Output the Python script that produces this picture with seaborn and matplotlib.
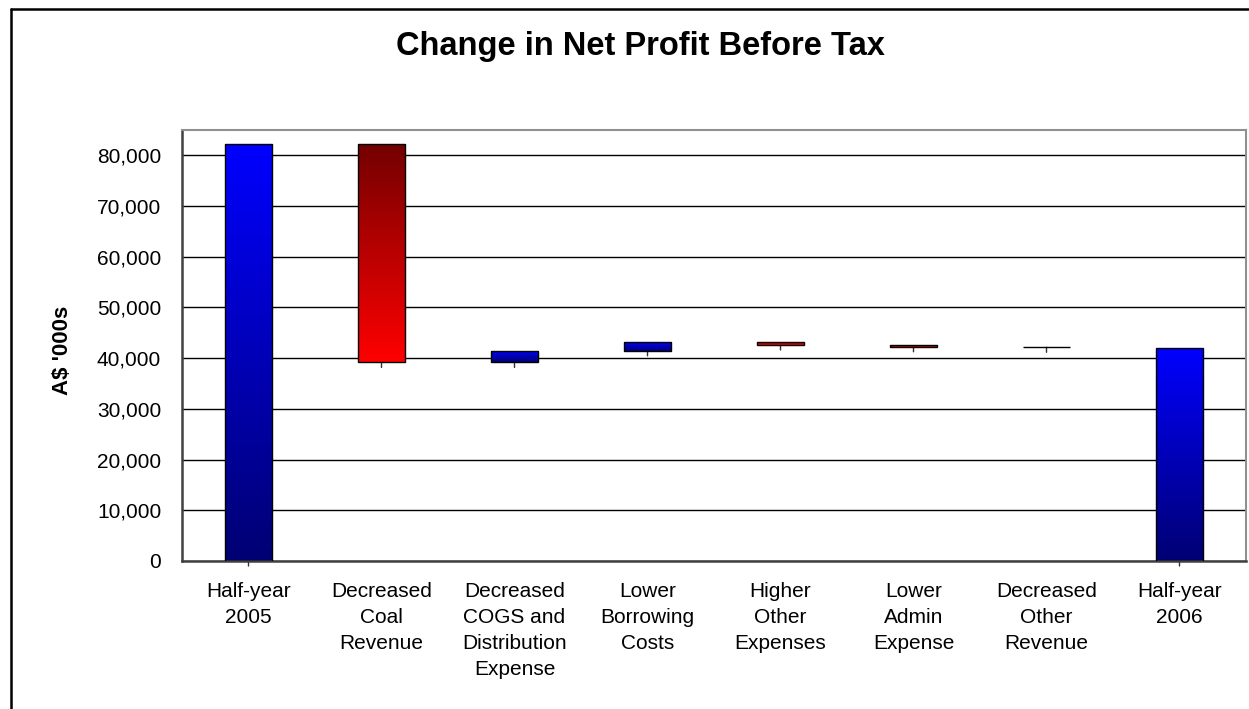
import numpy as np
import pandas as pd
import matplotlib
matplotlib.use("Agg")
import matplotlib.pyplot as plt
from matplotlib.colors import LinearSegmentedColormap
from matplotlib.lines import Line2D
import matplotlib.transforms as mtransforms
import seaborn as sns

# ---- data ----
categories = ["Half-year\n2005", "Decreased\nCoal\nRevenue",
              "Decreased\nCOGS and\nDistribution\nExpense", "Lower\nBorrowing\nCosts",
              "Higher\nOther\nExpenses", "Lower\nAdmin\nExpense",
              "Decreased\nOther\nRevenue", "Half-year\n2006"]
start_value = 82150
changes = [-43000, 2300, 1750, -600, -350, -100]
end_value = 41950
y_ticks = [0, 10000, 20000, 30000, 40000, 50000, 60000, 70000, 80000]

# ---- derive waterfall bottoms/heights ----
bottoms = [0]
heights = [start_value]
kinds = ["total"]
level = start_value
for c in changes:
    new = level + c
    bottoms.append(min(level, new))
    heights.append(abs(c))
    kinds.append("up" if c > 0 else "down")
    level = new
bottoms.append(0)
heights.append(end_value)
kinds.append("total")

df = pd.DataFrame({"cat": categories, "height": heights, "bottom": bottoms, "kind": kinds})

sns.set_theme(style="white")
plt.rcParams["font.family"] = ["Liberation Sans", "DejaVu Sans"]
plt.rcParams["text.color"] = "black"
plt.rcParams["xtick.color"] = "black"
plt.rcParams["ytick.color"] = "black"

fig = plt.figure(figsize=(12.49, 7.09), dpi=100)
ax = fig.add_axes([182/1249, 1-561/709, (1246-182)/1249, (561-130)/709])

sns.barplot(data=df, x="cat", y="height", order=categories, bottom=df["bottom"].to_numpy(),
            width=0.36, errorbar=None, color="white", edgecolor="black",
            linewidth=1.0, ax=ax, zorder=3)

ax.set_ylim(0, 85000)
ax.set_xlim(-0.5, len(categories) - 0.5)

blue_cmap = LinearSegmentedColormap.from_list("b", [(0, 0, 0.45), (0, 0, 1.0)])
red_cmap = LinearSegmentedColormap.from_list("r", [(1.0, 0, 0), (0.45, 0, 0)])
grad = np.linspace(0, 1, 256).reshape(-1, 1)
tick_down = mtransforms.offset_copy(ax.transData, fig=fig, y=-5, units="dots")
for patch, kind in zip(ax.patches, df["kind"]):
    x0, y0 = patch.get_x(), patch.get_y()
    w, h = patch.get_width(), patch.get_height()
    cmap = red_cmap if kind == "down" else blue_cmap
    patch.set_facecolor("none")
    im = ax.imshow(grad, extent=[x0, x0 + w, y0, y0 + h], origin="lower",
                   aspect="auto", cmap=cmap, zorder=2.5, interpolation="bilinear")
    im.set_clip_path(patch)
    # small Excel-style marker tick below each bar's base
    xc = x0 + w / 2
    ax.add_line(Line2D([xc, xc], [y0, y0], color="#333333", linewidth=1.0, zorder=2.4))
    ax.add_line(Line2D([xc, xc], [y0, y0], color="#333333", linewidth=1.0, zorder=2.4,
                       transform=tick_down))
    seg_tr = mtransforms.blended_transform_factory(ax.transData, ax.transData)
    ax.annotate("", xy=(xc, y0), xycoords="data", xytext=(0, -5), textcoords="offset pixels",
                arrowprops=dict(arrowstyle="-", color="#333333", lw=1.0,
                                shrinkA=0, shrinkB=0), zorder=2.4)
ax.set_ylim(0, 85000)
ax.set_xlim(-0.5, len(categories) - 0.5)

# axes styling
ax.set_yticks(y_ticks)
ax.set_yticklabels([f"{v:,}" for v in y_ticks])
ax.yaxis.grid(True, color="black", linewidth=1.0)
ax.set_axisbelow(True)
ax.set_xticks(np.arange(len(categories) + 1) - 0.5)
ax.set_xticklabels([])
ax.set_xticks(np.arange(len(categories)), minor=True)
ax.set_xticklabels(categories, minor=True, fontsize=15, linespacing=1.47)
ax.tick_params(axis="x", which="minor", length=0, pad=15)
ax.tick_params(axis="x", which="major", direction="inout", length=12, width=1.2, color="#333333")
ax.tick_params(axis="y", direction="inout", length=12, width=1.0, color="#333333",
               labelsize=15, pad=9)
ax.set_xlabel("")
ax.set_ylabel("")
for s in ["left", "bottom"]:
    ax.spines[s].set_color("#404040")
    ax.spines[s].set_linewidth(1.8)
for s in ["top", "right"]:
    ax.spines[s].set_color("#909090")
    ax.spines[s].set_linewidth(1.5)

fig.text(640/1249, 1-47/709, "Change in Net Profit Before Tax", ha="center", va="center",
         fontsize=23.5, fontweight="bold")
fig.text(62/1249, 1-350/709, "A$ '000s", ha="center", va="center", rotation=90,
         fontsize=16, fontweight="bold")

# outer chart border (left and top visible)
fig.add_artist(Line2D([11/1249, 11/1249], [0, 1-9/709], transform=fig.transFigure,
                      color="black", linewidth=1.8))
fig.add_artist(Line2D([11/1249, 1], [1-9/709, 1-9/709], transform=fig.transFigure,
                      color="black", linewidth=1.8))

fig.savefig("out.png", dpi=100, facecolor="white")
